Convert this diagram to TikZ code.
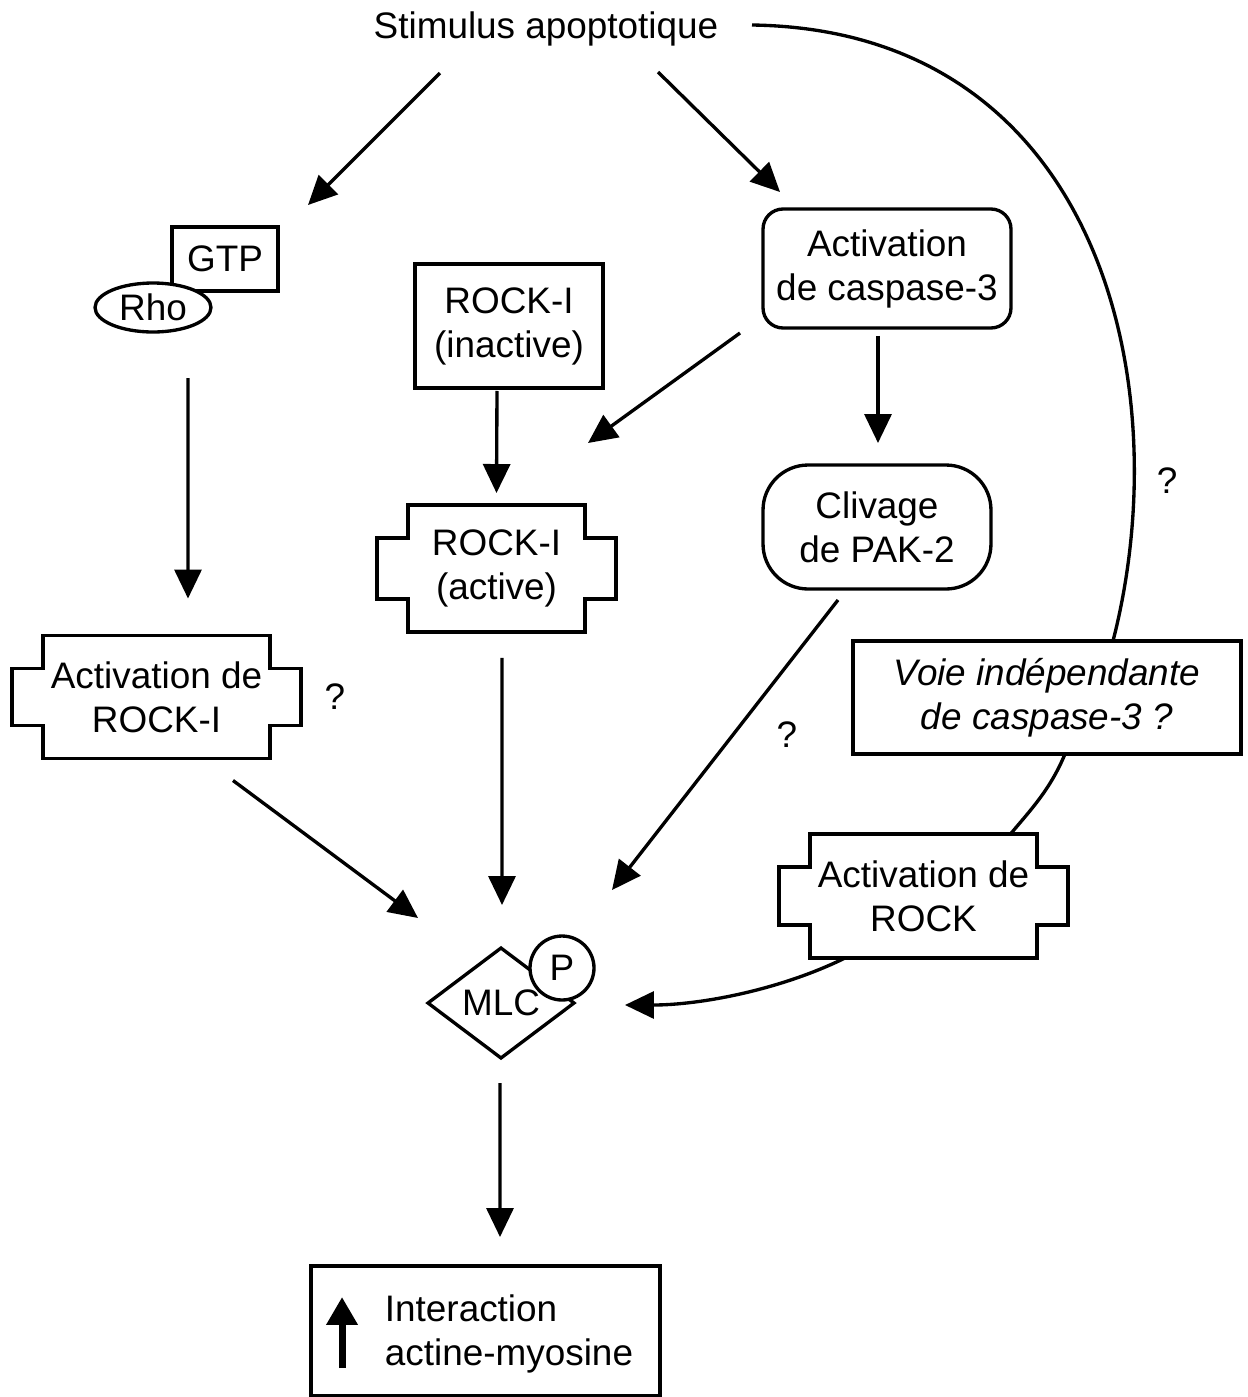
\documentclass[tikz,border=0pt]{standalone}
\usepackage{fontspec}
\setmainfont{Liberation Sans}
\usetikzlibrary{arrows.meta,shapes.geometric,calc}

% outline with side tabs, drawn round a named node
\newcommand{\notched}[1]{%
  \draw[outline] (#1.north west) -- (#1.north east) -- ++(0,33) -- ++(31,0)
    |- ($(#1.south east)+(0,-33)$) -- (#1.south east) -- (#1.south west)
    -- ++(0,-33) -- ++(-31,0) |- ($(#1.north west)+(0,33)$) -- cycle;}

\tikzset{
  outline/.style={line width=1.9pt,line join=miter},
  box/.style={draw,line width=1.9pt,fill=white,align=center,inner sep=0pt,outer sep=0pt},
  notch/.style={align=center,inner sep=0pt,outer sep=0pt},
  arr/.style={line width=1.9pt,-{Triangle[length=0.58cm,width=0.54cm]}}
}

\begin{document}
\begin{tikzpicture}[x=0.02cm,y=-0.02cm,font=\fontsize{21}{25}\selectfont]
        \useasboundingbox (0,0) rectangle (1248,1397);
        \node (stim) at (546,29) {Stimulus apoptotique};
        \node[box,minimum width=2.12cm,minimum height=1.28cm] (gtp) at (225,259) {GTP};
        \node[box,ellipse,minimum width=2.32cm,minimum height=0.98cm] (rho) at (153,307.5) {Rho};
        \node[box,minimum width=3.76cm,minimum height=2.48cm] (rockin) at (509,326) {ROCK-I\\(inactive)};
        \node[box,rounded corners=0.4cm,minimum width=4.96cm,minimum height=2.38cm] (casp) at (887,268.5) {Activation\\de caspase-3};
        \node[notch,minimum width=3.54cm,minimum height=2.54cm] (rockact) at (496.5,568.5) {ROCK-I\\(active)};
        \node[box,rounded corners=0.9cm,minimum width=4.56cm,minimum height=2.48cm] (pak) at (877,527) {Clivage\\de PAK-2};
        \node[notch,minimum width=4.54cm,minimum height=2.46cm] (rocki) at (156.5,697) {Activation de\\ROCK-I};
        \node[box,font=\fontsize{21}{25}\selectfont\itshape,minimum width=7.76cm,minimum height=2.26cm] (voie) at (1047,697.5) {Voie indépendante\\de caspase-3 ?};
        \node[notch,minimum width=4.54cm,minimum height=2.48cm] (rock) at (923.5,896) {Activation de\\ROCK};
        \node[box,diamond,minimum width=2.92cm,minimum height=2.2cm] (mlc) at (501,1003) {MLC};
        \node[box,circle,minimum size=1.28cm] (pho) at (562,968) {P};
        \node[box,minimum width=6.98cm,minimum height=2.6cm] (inter) at (485.5,1331) {};
        \node[align=left] (intertxt) at (509,1334) {Interaction\\actine-myosine};
        \node (q1) at (335,697) {?};
        \node (q2) at (787,735) {?};
        \node (q3) at (1167,481) {?};
        \notched{rockact}
        \notched{rocki}
        \notched{rock}
        \draw[arr] ($(stim)+(-106,44)$) -- ($(gtp.north)+(83,-22)$);
        \draw[arr] ($(stim)+(112,43)$) -- ($(casp.north west)+(17,-17)$);
        \draw[arr] ($(rho.south)+(35,46)$) -- ($(rocki.north)+(31.5,-37)$);
        \draw[arr] ($(rockin.south)+(-12,3)$) -- ($(rockact.north)+(0,-12)$);
        \draw[arr] ($(casp.south west)+(-23,5)$) -- ($(rockact.north east)+(3,-62)$);
        \draw[arr] ($(casp.south)+(-9,8)$) -- ($(pak.north)+(1,-22)$);
        \draw[arr] ($(rocki.south)+(76.5,22)$) -- ($(mlc.west)+(-10,-85)$);
        \draw[arr] ($(rockact.south)+(5.5,26)$) -- ($(mlc.north)+(1,-43)$);
        \draw[arr] ($(pak.south)+(-39,11)$) -- ($(mlc.north)+(111,-58)$);
        \draw[arr] ($(mlc.south)+(-1,25)$) -- ($(inter.north)+(14.5,-29)$);
        \draw[outline] ($(stim)+(206,-4)$) .. controls +(345,5) and +(67,-261) .. ($(voie.north)+(66,0)$);
        \draw[outline] ($(voie.south)+(18,0)$) .. controls +(-15,36) and +(20,-24) .. ($(rock.north)+(87,0)$);
        \draw[arr] ($(rock.south)+(-78.5,0)$) .. controls +(-65,32) and +(75,0) .. ($(mlc.east)+(51,2)$);
        \draw[line width=4pt,-{Triangle[length=0.56cm,width=0.6cm]}] ($(inter.south west)+(31,-28)$) -- ($(inter.south west)+(31,-99)$);
    \end{tikzpicture}
\end{document}
